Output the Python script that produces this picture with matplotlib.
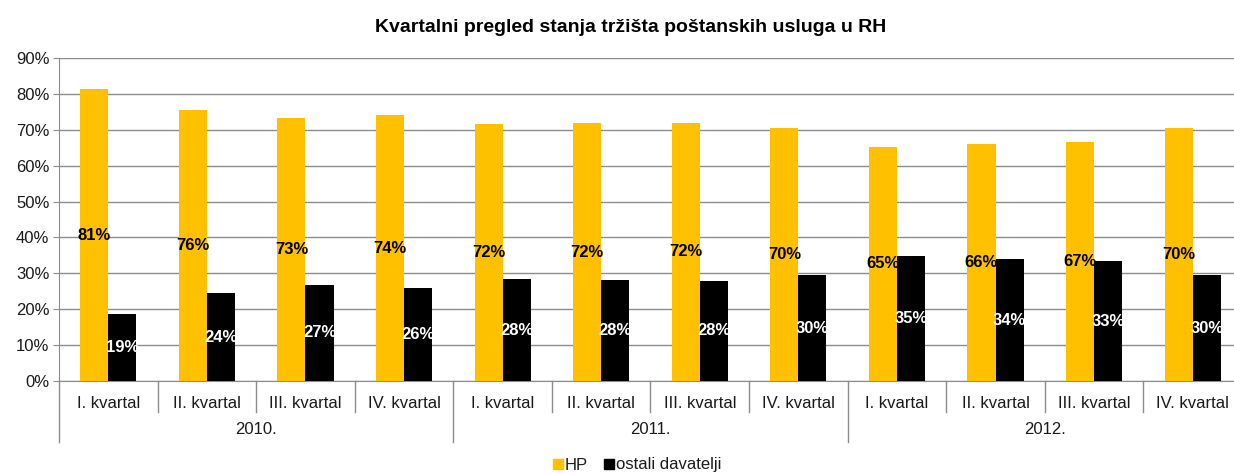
import numpy as np
import matplotlib.pyplot as plt
from matplotlib.lines import Line2D

plt.rcParams['font.family'] = ['Liberation Sans', 'DejaVu Sans']

quarters = ['I. kvartal', 'II. kvartal', 'III. kvartal', 'IV. kvartal'] * 3
years = ['2010.', '2011.', '2012.']
hp = [81.3, 75.6, 73.2, 74.0, 71.7, 71.8, 72.0, 70.5, 65.3, 66.1, 66.6, 70.5]
ostali = [18.7, 24.4, 26.8, 26.0, 28.3, 28.2, 28.0, 29.5, 34.7, 33.9, 33.4, 29.5]
hp_lbl = ['81%', '76%', '73%', '74%', '72%', '72%', '72%', '70%', '65%', '66%', '67%', '70%']
ost_lbl = ['19%', '24%', '27%', '26%', '28%', '28%', '28%', '30%', '35%', '34%', '33%', '30%']

yellow = '#FFC000'
grid_c = '#8C8C8C'
txt_c = '#1a1a1a'

fig = plt.figure(figsize=(12.34, 4.74), dpi=100)
# plot area runs past the right edge of the picture, as in the original
ax = fig.add_axes([59/1234, 1-381/474, 1183/1234, 323/474])

x = np.arange(len(hp))
w = 0.285
ax.bar(x - w/2, hp, w, color=yellow, zorder=3)
ax.bar(x + w/2, ostali, w, color='black', zorder=3)

for i in range(len(hp)):
    ax.text(x[i] - w/2, hp[i]/2, hp_lbl[i], ha='center', va='center',
            fontsize=12, fontweight='bold', color='black', zorder=4)
    ax.text(x[i] + w/2, ostali[i]/2, ost_lbl[i], ha='center', va='center',
            fontsize=12, fontweight='bold', color='white', zorder=4)

ax.set_xlim(-0.5, len(hp) - 0.5)
ax.set_ylim(0, 90)
ax.set_yticks(np.arange(0, 91, 10))
ax.set_yticklabels([f'{v}%' for v in range(0, 91, 10)], fontsize=12, color=txt_c)
ax.yaxis.grid(True, color=grid_c, linewidth=1, zorder=0)
ax.tick_params(axis='y', length=4, color=grid_c, pad=3)
ax.set_xticks([])
for s in ['top', 'right']:
    ax.spines[s].set_visible(False)
ax.spines['left'].set_color(grid_c)
ax.spines['bottom'].set_color(grid_c)

# hierarchical category axis
tr = ax.get_xaxis_transform()
y_q = -31/323
y_g = -61/323
for i in range(len(hp)):
    ax.text(x[i], -22/323, quarters[i], transform=tr, ha='center', va='center',
            fontsize=12, color=txt_c)
for b in np.arange(0.5, len(hp) - 1, 1.0):
    if (b + 0.5) % 4 == 0:
        continue
    ax.add_line(Line2D([b, b], [0, y_q], transform=tr, color=grid_c, lw=1, clip_on=False))
for g in [-0.5, 3.5, 7.5]:
    ax.add_line(Line2D([g, g], [0, y_g], transform=tr, color=grid_c, lw=1, clip_on=False))
for k, yr in enumerate(years):
    ax.text(4*k + 1.5, -49/323, yr, transform=tr, ha='center', va='center',
            fontsize=12, color=txt_c)

fig.text(631/1234, 1-27/474, 'Kvartalni pregled stanja tržišta poštanskih usluga u RH',
         ha='center', va='center', fontsize=14, fontweight='bold')

handles = [Line2D([], [], marker='s', ls='', color=yellow, markersize=6.5),
           Line2D([], [], marker='s', ls='', color='black', markersize=6.5)]
fig.legend(handles, ['HP', 'ostali davatelji'], loc='center', bbox_to_anchor=(636/1234, 1-465/474),
           ncol=2, frameon=False, fontsize=12, handletextpad=0.0, columnspacing=0.9,
           handlelength=0.8, labelcolor=txt_c)

fig.savefig('out.png', dpi=100)
